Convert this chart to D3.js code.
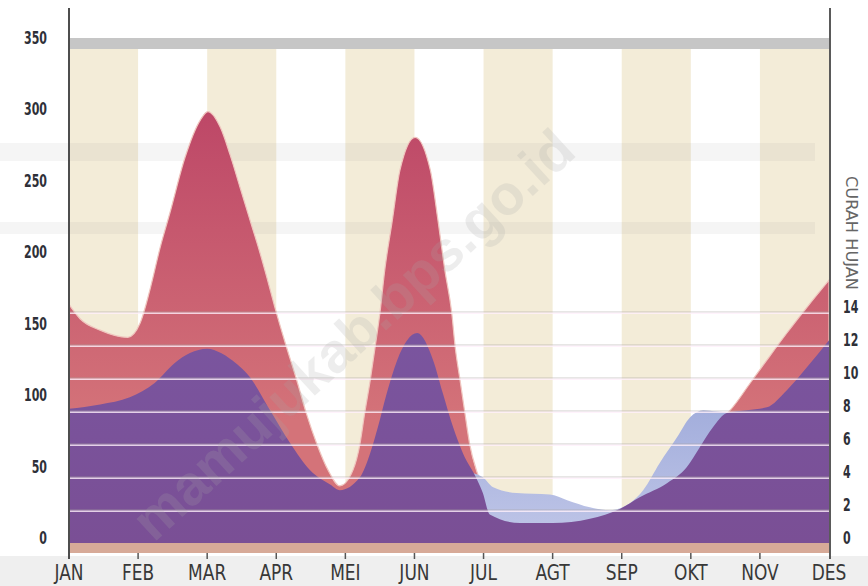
<!DOCTYPE html>
<html>
<head>
<meta charset="utf-8">
<script src="https://cdn.jsdelivr.net/npm/d3@7"></script>
<style>
  html, body { margin: 0; padding: 0; background: #ffffff; }
  svg { display: block; }
</style>
</head>
<body>
<svg id="chart" width="868" height="586"></svg>
<script>
// ---------- DATA ----------
const months = ["JAN","FEB","MAR","APR","MEI","JUN","JUL","AGT","SEP","OKT","NOV","DES"];
const leftTicks = [0, 50, 100, 150, 200, 250, 300, 350];
const rightTicks = [0, 2, 4, 6, 8, 10, 12, 14];
const rightTitle = "CURAH HUJAN";
const watermark = "mamujukab.bps.go.id";

// positions along the month axis (0 = JAN ... 11 = DES) and values (left axis units)
const redT = [0, 0.16, 0.45, 0.85, 1.03, 1.17, 1.32, 1.46, 1.68, 1.90, 2.01, 2.19, 2.33, 2.475, 2.62, 2.765, 2.88, 2.98, 3.13, 3.29, 3.44, 3.59, 3.75, 3.92, 4.11, 4.21, 4.28, 4.36, 4.43, 4.50, 4.57, 4.68, 4.79, 5.01, 5.23, 5.34, 5.44, 5.54, 5.59, 5.66, 5.73, 5.80, 5.91, 6.1, 6.24, 7, 8, 8.5, 9, 9.3, 9.57, 9.86, 10.1, 10.39, 10.68, 11];
const redV = [167, 157, 149, 144, 154, 177, 207, 231, 270, 296, 302, 291, 272, 249, 226, 203, 183, 165, 140, 115, 90, 69, 51, 40, 51, 69, 91, 114, 137, 161, 191, 226, 261, 284, 261, 226, 191, 161, 137, 114, 91, 69, 49, 30, 22, 15, 20, 35, 65, 82, 93, 112, 128, 147, 165, 184];

const purpleT = [0, 0.45, 0.88, 1.24, 1.53, 1.75, 2.0, 2.2, 2.33, 2.62, 2.91, 3.2, 3.49, 3.78, 3.92, 4.21, 4.36, 4.47, 4.60, 4.75, 5.04, 5.27, 5.41, 5.56, 5.70, 5.91, 5.99, 6.09, 6.53, 7, 7.54, 7.98, 8.26, 8.66, 8.94, 9.13, 9.32, 9.52, 9.81, 10.1, 10.39, 10.68, 11];
const purpleV = [94, 97, 102, 112, 126, 133, 136, 133, 129, 116, 93, 70, 51, 41, 37, 46, 63, 81, 105, 128, 147, 128, 105, 81, 63, 44, 35, 20, 14, 14, 17, 24, 32, 42, 53, 67, 81, 91, 93, 95, 107, 123, 142];

const blueT = [5.70, 5.80, 5.91, 5.99, 6.14, 6.48, 6.96, 7.21, 7.54, 7.83, 8.12, 8.31, 8.55, 8.80, 8.99, 9.18, 9.38, 9.54, 9.78];
const blueV = [48, 49, 48, 46, 39, 35, 34, 30, 25, 23, 28, 37, 56, 74, 88, 93, 92, 91, 78];

// ---------- CHART ----------
const svg = d3.select("#chart");
const x = d3.scaleLinear().domain([0, 11]).range([69, 829]);
const xm = d3.scalePoint().domain(months).range([69, 829]);
const yL = d3.scaleLinear().domain([0, 350]).range([543, 43]);
const yR = d3.scaleLinear().domain([0, 14]).range([544, 313]);

const defs = svg.append("defs");
const gRed = defs.append("linearGradient").attr("id", "gRed")
  .attr("gradientUnits", "userSpaceOnUse").attr("x1", 0).attr("x2", 0).attr("y1", 110).attr("y2", 420);
gRed.append("stop").attr("offset", 0).attr("stop-color", "#bd4767");
gRed.append("stop").attr("offset", 1).attr("stop-color", "#d47379");
const gPur = defs.append("linearGradient").attr("id", "gPur")
  .attr("gradientUnits", "userSpaceOnUse").attr("x1", 0).attr("x2", 0).attr("y1", 330).attr("y2", 543);
gPur.append("stop").attr("offset", 0).attr("stop-color", "#7a559f");
gPur.append("stop").attr("offset", 1).attr("stop-color", "#7a4f95");
const gBlue = defs.append("linearGradient").attr("id", "gBlue")
  .attr("gradientUnits", "userSpaceOnUse").attr("x1", 0).attr("x2", 0).attr("y1", 410).attr("y2", 525);
gBlue.append("stop").attr("offset", 0).attr("stop-color", "#a3aedc");
gBlue.append("stop").attr("offset", 1).attr("stop-color", "#bcc3e6");

// bottom gray strip
svg.append("rect").attr("x", 0).attr("y", 556).attr("width", 868).attr("height", 30).attr("fill", "#efefef");

// cream columns
const stripeIdx = [0, 2, 4, 6, 8, 10];
svg.selectAll("rect.stripe").data(stripeIdx).join("rect")
  .attr("class", "stripe")
  .attr("x", d => x(d)).attr("width", d => x(d + 1) - x(d))
  .attr("y", 49).attr("height", yL(0) - 49)
  .attr("fill", "#f3ecd8");

// faint watermark frame bands
svg.append("rect").attr("x", 0).attr("y", 143).attr("width", 815).attr("height", 18).attr("fill", "#808080").attr("opacity", 0.08);
svg.append("rect").attr("x", 0).attr("y", 222).attr("width", 815).attr("height", 12).attr("fill", "#808080").attr("opacity", 0.08);

// top gray band at 350
svg.append("rect").attr("x", x(0)).attr("y", yL(350) - 5).attr("width", x(11) - x(0)).attr("height", 11).attr("fill", "#c6c6c6");

// areas
const area = d3.area()
  .x(d => x(d[0]))
  .y0(yL(0))
  .y1(d => yL(d[1]))
  .curve(d3.curveMonotoneX);

const redData = redT.map((t, i) => [t, redV[i]]);
const purpleData = purpleT.map((t, i) => [t, purpleV[i]]);
const blueData = blueT.map((t, i) => [t, blueV[i]]);

svg.append("path").datum(redData).attr("d", area)
  .attr("fill", "url(#gRed)").attr("stroke", "#f0c6bf").attr("stroke-width", 1.2);
svg.append("path").datum(blueData).attr("d", area)
  .attr("fill", "url(#gBlue)");
svg.append("path").datum(purpleData).attr("d", area)
  .attr("fill", "url(#gPur)");

// horizontal rain lines (right axis)
const lineTicks = rightTicks.filter(v => v > 0);
svg.selectAll("line.gl").data(lineTicks).join("line")
  .attr("class", "gl")
  .attr("x1", x(0)).attr("x2", x(11))
  .attr("y1", d => yR(d) - 1).attr("y2", d => yR(d) - 1)
  .attr("stroke", "#a8a4a0").attr("stroke-opacity", 0.55).attr("stroke-width", 1);
svg.selectAll("line.wl").data(lineTicks).join("line")
  .attr("class", "wl")
  .attr("x1", x(0)).attr("x2", x(11))
  .attr("y1", d => yR(d) + 0.3).attr("y2", d => yR(d) + 0.3)
  .attr("stroke", "#fff0fb").attr("stroke-opacity", 0.8).attr("stroke-width", 1.6);

// tan baseline band
svg.append("rect").attr("x", x(0)).attr("y", yL(0)).attr("width", x(11) - x(0)).attr("height", 10).attr("fill", "#d7aa98");

// axes lines
svg.append("line").attr("x1", x(0)).attr("x2", x(0)).attr("y1", 8).attr("y2", 559)
  .attr("stroke", "#4d4d4d").attr("stroke-width", 2);
svg.append("line").attr("x1", x(11) + 1).attr("x2", x(11) + 1).attr("y1", 8).attr("y2", 559)
  .attr("stroke", "#5a5a5a").attr("stroke-width", 2);

// x ticks
svg.selectAll("line.xt").data(months.slice(1, 11)).join("line")
  .attr("class", "xt")
  .attr("x1", d => xm(d)).attr("x2", d => xm(d))
  .attr("y1", 553).attr("y2", 559)
  .attr("stroke", "#555").attr("stroke-width", 1.5);

const condensed = "'DejaVu Sans Condensed', 'Liberation Sans Narrow', 'DejaVu Sans', sans-serif";

// month labels
svg.selectAll("text.mon").data(months).join("text")
  .attr("class", "mon")
  .attr("transform", d => `translate(${xm(d)},580) scale(0.86,1)`)
  .attr("text-anchor", "middle")
  .attr("font-family", condensed)
  .attr("font-size", 22)
  .attr("fill", "#383838")
  .text(d => d);

// left labels
svg.selectAll("text.lt").data(leftTicks).join("text")
  .attr("class", "lt")
  .attr("transform", d => `translate(47,${yL(d) + 1}) scale(0.72,1)`)
  .attr("text-anchor", "end")
  .attr("font-family", condensed)
  .attr("font-weight", "bold")
  .attr("font-size", 17)
  .attr("fill", "#2e3038")
  .text(d => d);

// right labels
svg.selectAll("text.rt").data(rightTicks).join("text")
  .attr("class", "rt")
  .attr("transform", d => `translate(843,${yR(d)}) scale(0.72,1)`)
  .attr("text-anchor", "start")
  .attr("font-family", condensed)
  .attr("font-weight", "bold")
  .attr("font-size", 17)
  .attr("fill", "#2e3038")
  .text(d => d);

// right title
svg.append("text")
  .attr("transform", "translate(846,176) rotate(90)")
  .attr("text-anchor", "start")
  .attr("font-family", condensed)
  .attr("font-size", 16)
  .attr("textLength", 114)
  .attr("lengthAdjust", "spacingAndGlyphs")
  .attr("fill", "#666")
  .text(rightTitle);

// watermark
svg.append("text")
  .attr("transform", "translate(356,338) rotate(-42.5)")
  .attr("text-anchor", "middle")
  .attr("dominant-baseline", "middle")
  .attr("font-family", "'Liberation Sans', Arial, sans-serif")
  .attr("font-weight", "bold")
  .attr("font-size", 56)
  .attr("fill", "#a8a8a8")
  .attr("opacity", 0.2)
  .text(watermark);
</script>
</body>
</html>
